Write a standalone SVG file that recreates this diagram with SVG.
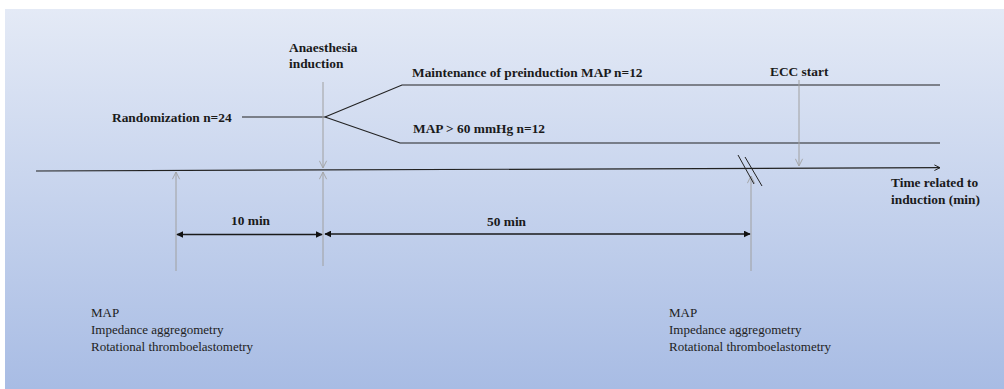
<svg xmlns="http://www.w3.org/2000/svg" width="1004" height="389" viewBox="0 0 1004 389">
  <defs>
    <linearGradient id="bg" x1="0" y1="0" x2="0" y2="1">
      <stop offset="0" stop-color="#e4eaf6"/>
      <stop offset="1" stop-color="#a8bce4"/>
    </linearGradient>
    <marker id="open" viewBox="0 0 10 10" refX="9" refY="5" markerWidth="7" markerHeight="7" markerUnits="userSpaceOnUse" orient="auto">
      <path d="M1,1 L9,5 L1,9" fill="none" stroke="#222" stroke-width="1.4"/>
    </marker>
    <marker id="openGray" viewBox="0 0 10 10" refX="9" refY="5" markerWidth="9" markerHeight="9" markerUnits="userSpaceOnUse" orient="auto">
      <path d="M1,1 L9,5 L1,9" fill="none" stroke="#a0a0a0" stroke-width="1"/>
    </marker>
    <marker id="solid" viewBox="0 0 10 10" refX="9" refY="5" markerWidth="7" markerHeight="7" markerUnits="userSpaceOnUse" orient="auto-start-reverse">
      <path d="M0,0 L10,5 L0,10 Z" fill="#111"/>
    </marker>
  </defs>
  <style>
    .lbl { font-family: "Liberation Serif", "Times New Roman", serif; font-size: 13.4px; font-weight: bold; fill: #1a1a1a; }
    .reg { font-family: "Liberation Serif", "Times New Roman", serif; font-size: 13px; fill: #222; }
    .dark { stroke: #222; stroke-width: 1.2; fill: none; }
    .gray { stroke: #a0a0a0; stroke-width: 1; fill: none; }
    .dim { stroke: #1a1a1a; stroke-width: 1.5; fill: none; }
  </style>
  <rect x="0" y="0" width="1004" height="389" fill="#ffffff"/>
  <rect x="5" y="9" width="999" height="380" fill="url(#bg)"/>

  <g id="connectors">
    <!-- timeline -->
    <line class="dark" x1="36" y1="171" x2="940" y2="167.7" marker-end="url(#open)"/>
    <!-- randomization & branches -->
    <line class="dark" x1="242" y1="117" x2="325" y2="117"/>
    <polyline class="dark" points="325,117 402,85 940,85"/>
    <polyline class="dark" points="325,117 400,143 940,143"/>
    <!-- induction arrows -->
    <line class="gray" x1="323" y1="82" x2="323" y2="168" marker-end="url(#openGray)"/>
    <line class="gray" x1="323" y1="266" x2="323" y2="172" marker-end="url(#openGray)"/>
    <!-- left measurement arrow -->
    <line class="gray" x1="176" y1="271" x2="176" y2="172" marker-end="url(#openGray)"/>
    <!-- right measurement arrow -->
    <line class="gray" x1="751" y1="271" x2="751" y2="176" marker-end="url(#openGray)"/>
    <!-- ECC start arrow -->
    <line class="gray" x1="799" y1="80" x2="799" y2="166" marker-end="url(#openGray)"/>
    <!-- break marks -->
    <line stroke="#222" stroke-width="1" x1="738" y1="155" x2="754" y2="184"/>
    <line stroke="#222" stroke-width="1" x1="745" y1="157" x2="762" y2="186"/>
    <!-- dimension arrows -->
    <line class="dim" x1="177" y1="234.5" x2="322" y2="234.5" marker-start="url(#solid)" marker-end="url(#solid)"/>
    <line class="dim" x1="325" y1="234" x2="750" y2="234" marker-start="url(#solid)" marker-end="url(#solid)"/>
  </g>

  <g id="node-randomization"><text class="lbl" x="112" y="122">Randomization n=24</text></g>
  <g id="node-induction">
    <text class="lbl" x="289" y="52">Anaesthesia</text>
    <text class="lbl" x="289" y="68">induction</text>
  </g>
  <g id="node-maintenance"><text class="lbl" x="412" y="77">Maintenance of preinduction MAP n=12</text></g>
  <g id="node-map60"><text class="lbl" x="413" y="133">MAP &gt; 60 mmHg n=12</text></g>
  <g id="node-ecc"><text class="lbl" x="770" y="76">ECC start</text></g>
  <g id="node-time">
    <text class="lbl" x="891" y="187">Time related to</text>
    <text class="lbl" x="891" y="204">induction (min)</text>
  </g>
  <g id="node-10min"><text class="lbl" x="231" y="225">10 min</text></g>
  <g id="node-50min"><text class="lbl" x="487" y="226">50 min</text></g>
  <g id="node-measure-left">
    <text class="reg" x="91" y="317">MAP</text>
    <text class="reg" x="91" y="334">Impedance aggregometry</text>
    <text class="reg" x="91" y="351">Rotational thromboelastometry</text>
  </g>
  <g id="node-measure-right">
    <text class="reg" x="669" y="317">MAP</text>
    <text class="reg" x="669" y="334">Impedance aggregometry</text>
    <text class="reg" x="669" y="351">Rotational thromboelastometry</text>
  </g>
</svg>
